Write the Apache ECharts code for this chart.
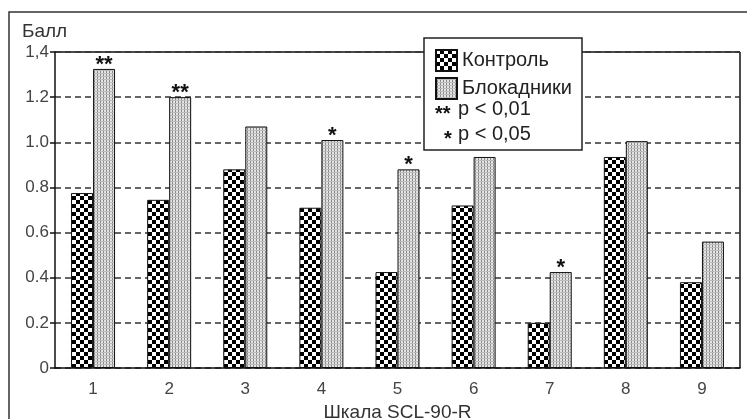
<!DOCTYPE html>
<html>
<head>
<meta charset="utf-8">
<script src="https://cdn.jsdelivr.net/npm/echarts@6/dist/echarts.min.js"></script>
<style>
  html, body { margin: 0; padding: 0; background: #fff; }
  #chart { width: 747px; height: 419px; }
</style>
</head>
<body>
<div id="chart"></div>
<script>
// шкалы SCL-90-R
const categories = ['1', '2', '3', '4', '5', '6', '7', '8', '9']
const control = [0.775, 0.745, 0.88, 0.71, 0.425, 0.72, 0.2, 0.935, 0.38]
const blockade = [1.325, 1.2, 1.07, 1.01, 0.88, 0.935, 0.425, 1.005, 0.56]
const stars = ['**', '**', '', '*', '*', '', '*', '', '']

// шахматная заливка
function checkerPattern() {
  const c = document.createElement('canvas')
  c.width = 8
  c.height = 8
  const ctx = c.getContext('2d')
  ctx.fillStyle = '#000'
  ctx.fillRect(0, 0, 8, 8)
  ctx.fillStyle = '#fff'
  ctx.fillRect(0, 0, 4, 4)
  ctx.fillRect(4, 4, 4, 4)
  return c
}

// мелкая серая штриховка
function dotPattern() {
  const c = document.createElement('canvas')
  c.width = 3
  c.height = 3
  const ctx = c.getContext('2d')
  ctx.fillStyle = '#e4e4e4'
  ctx.fillRect(0, 0, 3, 3)
  ctx.fillStyle = '#8a8a8a'
  ctx.fillRect(1, 0, 1, 3)
  ctx.fillStyle = '#bdbdbd'
  ctx.fillRect(0, 1, 3, 1)
  return c
}

const chart = echarts.init(document.getElementById('chart'))
const font = 'Liberation Sans, Arial, sans-serif'

chart.setOption({
  animation: false,
  grid: { left: 55, top: 52, right: 7, bottom: 51, outerBoundsMode: 'none' },
  legend: {
    orient: 'vertical',
    left: 430,
    top: 44,
    itemWidth: 21,
    itemHeight: 21,
    itemGap: 5,
    icon: 'rect',
    z: 5,
    textStyle: { fontFamily: font, fontSize: 20, color: '#222' },
    data: ['Контроль', 'Блокадники']
  },
  xAxis: {
    type: 'category',
    data: categories,
    name: 'Шкала SCL-90-R',
    nameLocation: 'middle',
    nameGap: 33,
    nameTextStyle: { fontFamily: font, fontSize: 19, color: '#333' },
    axisLine: { lineStyle: { color: '#111', width: 1.5 } },
    axisTick: { length: 5, lineStyle: { color: '#111', width: 1.5 } },
    axisLabel: { fontFamily: font, fontSize: 17, color: '#444', margin: 13 }
  },
  yAxis: {
    type: 'value',
    min: 0,
    max: 1.4,
    interval: 0.2,
    axisLine: { show: true, lineStyle: { color: '#111', width: 1.5 } },
    axisTick: { show: true, length: 5, lineStyle: { color: '#111', width: 1.5 } },
    axisLabel: {
      fontFamily: font,
      fontSize: 17,
      color: '#444',
      margin: 6,
      formatter: v => (v === 0 ? '0' : v >= 1.39 ? '1,4' : v.toFixed(1))
    },
    splitLine: { lineStyle: { color: '#333', type: [6, 4], width: 1.5 } }
  },
  series: [
    {
      name: 'Контроль',
      type: 'bar',
      data: control,
      barWidth: 22,
      barGap: '0%',
      itemStyle: {
        color: { image: checkerPattern(), repeat: 'repeat' },
        borderColor: '#111',
        borderWidth: 1
      }
    },
    {
      name: 'Блокадники',
      type: 'bar',
      data: blockade,
      barWidth: 22,
      itemStyle: {
        color: { image: dotPattern(), repeat: 'repeat' },
        borderColor: '#111',
        borderWidth: 1
      },
      label: {
        show: true,
        position: 'top',
        distance: -7,
        fontFamily: font,
        fontSize: 22,
        fontWeight: 'bold',
        color: '#111',
        formatter: p => stars[p.dataIndex]
      }
    }
  ],
  graphic: [
    // внешняя рамка
    { type: 'rect', shape: { x: 9, y: 12, width: 760, height: 440 }, style: { fill: 'none', stroke: '#333', lineWidth: 1.5 }, silent: true },
    // верх и право области построения
    { type: 'line', shape: { x1: 55, y1: 52, x2: 424, y2: 52 }, style: { stroke: '#111', lineWidth: 1.5 }, silent: true },
    { type: 'line', shape: { x1: 582, y1: 52, x2: 740, y2: 52 }, style: { stroke: '#111', lineWidth: 1.5 }, silent: true },
    { type: 'line', shape: { x1: 740, y1: 52, x2: 740, y2: 368 }, style: { stroke: '#111', lineWidth: 1.5 }, silent: true },
    // рамка легенды и строки значимости
    { type: 'rect', z: 4, shape: { x: 424, y: 38, width: 158, height: 112 }, style: { fill: '#fff', stroke: '#222', lineWidth: 1.5 }, silent: true },
    { type: 'text', z: 5, x: 435, y: 104, style: { text: '**', font: 'bold 20px Liberation Sans', fill: '#111' } },
    { type: 'text', z: 5, x: 458, y: 99, style: { text: 'p < 0,01', font: '20px Liberation Sans', fill: '#222' } },
    { type: 'text', z: 5, x: 444, y: 129, style: { text: '*', font: 'bold 20px Liberation Sans', fill: '#111' } },
    { type: 'text', z: 5, x: 458, y: 124, style: { text: 'p < 0,05', font: '20px Liberation Sans', fill: '#222' } },
    // подпись оси Y
    { type: 'text', left: 22, top: 22, style: { text: 'Балл', font: '19px Liberation Sans', fill: '#333' } }
  ]
})
</script>
</body>
</html>
